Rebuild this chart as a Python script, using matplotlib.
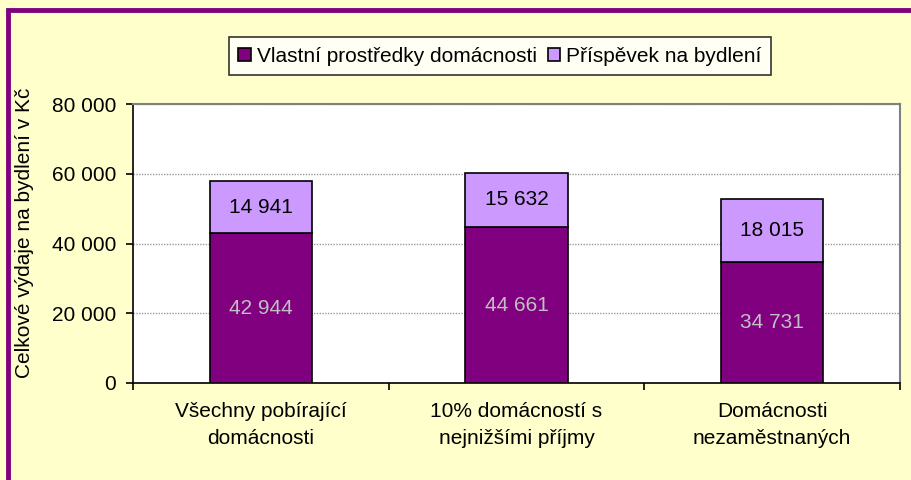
import matplotlib.pyplot as plt
from matplotlib.patches import Rectangle

plt.rcParams['font.family'] = ['Liberation Sans', 'DejaVu Sans']

# ==========================
# data
# ==========================
categories = ["Všechny pobírající\ndomácnosti",
              "10% domácností s\nnejnižšími příjmy",
              "Domácnosti\nnezaměstnaných"]
vlastni = [42944, 44661, 34731]
prispevek = [14941, 15632, 18015]
series_names = ["Vlastní prostředky domácnosti", "Příspěvek na bydlení"]
yticks = [0, 20000, 40000, 60000, 80000]

dark = "#800080"
light = "#CC99FF"
bg = "#FFFFCC"
fs = 15

def fmt(v):
    return f"{v:,}".replace(",", " ")

# ==========================
# plot
# ==========================
W, H = 912, 480
fig = plt.figure(figsize=(W / 100, H / 100), dpi=100)
fig.patch.set_facecolor(bg)

# purple frame (cut at right/bottom)
fig.patches.append(Rectangle((8.5 / W, -0.1), 1.2, 1 - 10 / H + 0.1,
                             transform=fig.transFigure, fill=False,
                             edgecolor=dark, linewidth=3.5, zorder=0))

ax = fig.add_axes([133 / W, 1 - 383 / H, (900 - 133) / W, (383 - 104) / H])
ax.set_facecolor("white")

x = range(len(categories))
b1 = ax.bar(x, vlastni, width=0.4, color=dark, edgecolor="black",
            linewidth=1.2, label=series_names[0], zorder=3)
b2 = ax.bar(x, prispevek, width=0.4, bottom=vlastni, color=light,
            edgecolor="black", linewidth=1.2, label=series_names[1], zorder=3)

for i in x:
    ax.text(i, vlastni[i] / 2, fmt(vlastni[i]), ha="center", va="center",
            color="#C0C0C0", fontsize=fs, zorder=4)
    ax.text(i, vlastni[i] + prispevek[i] / 2, fmt(prispevek[i]), ha="center",
            va="center", color="black", fontsize=fs, zorder=4)

ax.set_xlim(-0.5, 2.5)
ax.set_ylim(0, 80000)
ax.set_yticks(yticks)
ax.set_yticklabels([fmt(v) for v in yticks], fontsize=fs)
ax.yaxis.grid(True, color="#999999", linestyle=(0, (1, 1)), linewidth=1, zorder=0)

ax.set_xticks(list(x))
ax.set_xticklabels(categories, fontsize=fs, linespacing=1.57)
ax.tick_params(axis="x", length=0, pad=13.5)
ax.set_xticks([-0.5, 0.5, 1.5, 2.5], minor=True)
ax.tick_params(axis="x", which="minor", length=5, width=1.2, direction="out")
ax.tick_params(axis="y", length=5, width=1.2, direction="out", pad=7)

for s in ["left", "bottom"]:
    ax.spines[s].set_color("black")
    ax.spines[s].set_linewidth(1.2)
for s in ["top", "right"]:
    ax.spines[s].set_color("#808080")
    ax.spines[s].set_linewidth(1.5)

ax.set_ylabel("Celkové výdaje na bydlení v Kč", fontsize=fs)
ax.yaxis.set_label_coords(-(133 - 34) / (900 - 133), 0.54)

leg = fig.legend(handles=[b1, b2], loc="center",
                 bbox_to_anchor=(500 / W, 1 - 56 / H), ncol=2, fontsize=fs,
                 frameon=True, fancybox=False, edgecolor="black",
                 handlelength=0.6, handleheight=0.6, handletextpad=0.3,
                 columnspacing=0.5, borderpad=0.45)
leg.get_frame().set_linewidth(1.2)

plt.savefig("out.png", dpi=100, facecolor=bg)
plt.close()
